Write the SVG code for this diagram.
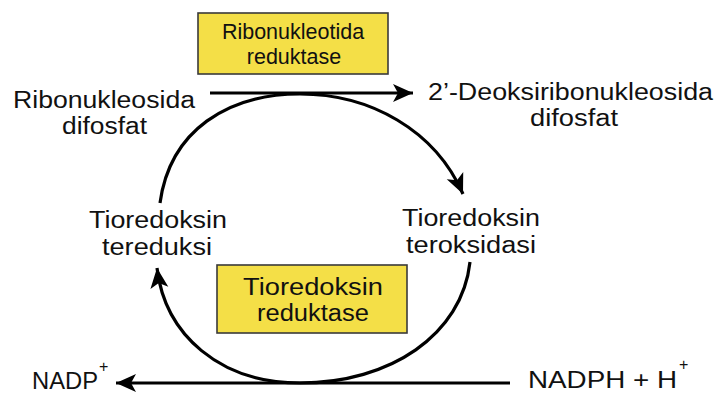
<svg xmlns="http://www.w3.org/2000/svg" width="722" height="393" viewBox="0 0 722 393">
  <style>
    text { font-family: "Liberation Sans", Arial, sans-serif; fill: #111; }
    .lbl { font-size: 23px; }
    .enz { font-size: 23px; text-anchor: middle; }
    .enz-s { font-size: 21.5px; text-anchor: middle; }
    .big { font-size: 24px; }
    .sup { font-size: 16px; }
    .box { fill: #f4df47; stroke: #3a3a3a; stroke-width: 1.6; }
    .edge { fill: none; stroke: #000; stroke-width: 3.2; }
  </style>
  <defs>
    <marker id="arrow" markerUnits="userSpaceOnUse" markerWidth="22" markerHeight="20" viewBox="0 0 22 20" refX="20" refY="10" orient="auto">
      <path d="M0,1 L20,10 L0,19 L5,10 z" fill="#000"/>
    </marker>
  </defs>

  <rect width="722" height="393" fill="#fff"/>

  <!-- connectors -->
  <g id="connectors">
    <path class="edge" d="M210,93 L413,93" marker-end="url(#arrow)"/>
    <path class="edge" d="M510,383 L116,383" marker-end="url(#arrow)"/>
    <path class="edge" d="M160,203 C170,130 228,94 300,94 C370,94 435,130 463,194" marker-end="url(#arrow)"/>
    <path class="edge" d="M470,262 C462,335 390,383 300,383 C220,383 165,335 157,268" marker-end="url(#arrow)"/>
  </g>

  <!-- enzyme boxes -->
  <g id="ribonukleotida-reduktase">
    <rect class="box" x="198" y="13" width="190" height="61"/>
    <text class="enz-s" x="293" y="39">Ribonukleotida</text>
    <text class="enz-s" x="294" y="64">reduktase</text>
  </g>
  <g id="tioredoksin-reduktase">
    <rect class="box" x="217" y="265" width="190" height="68"/>
    <text class="enz" x="313" y="295" textLength="140" lengthAdjust="spacingAndGlyphs">Tioredoksin</text>
    <text class="enz" x="313" y="321" textLength="112" lengthAdjust="spacingAndGlyphs">reduktase</text>
  </g>

  <!-- metabolites -->
  <g id="ribonukleosida-difosfat">
    <text class="lbl" x="13" y="108" textLength="182" lengthAdjust="spacingAndGlyphs">Ribonukleosida</text>
    <text class="lbl" x="62" y="134" textLength="85" lengthAdjust="spacingAndGlyphs">difosfat</text>
  </g>
  <g id="deoksiribonukleosida-difosfat">
    <text class="lbl" x="428" y="100" textLength="285" lengthAdjust="spacingAndGlyphs">2’-Deoksiribonukleosida</text>
    <text class="lbl" x="530" y="126" textLength="88" lengthAdjust="spacingAndGlyphs">difosfat</text>
  </g>
  <g id="tioredoksin-tereduksi">
    <text class="lbl" x="89" y="228" textLength="138" lengthAdjust="spacingAndGlyphs">Tioredoksin</text>
    <text class="lbl" x="102" y="255" textLength="110" lengthAdjust="spacingAndGlyphs">tereduksi</text>
  </g>
  <g id="tioredoksin-teroksidasi">
    <text class="lbl" x="402" y="226" textLength="138" lengthAdjust="spacingAndGlyphs">Tioredoksin</text>
    <text class="lbl" x="406" y="253" textLength="130" lengthAdjust="spacingAndGlyphs">teroksidasi</text>
  </g>
  <g id="nadp">
    <text class="big" x="32" y="389" textLength="66" lengthAdjust="spacingAndGlyphs">NADP</text>
    <text class="sup" x="99" y="372">+</text>
  </g>
  <g id="nadph">
    <text class="big" x="528" y="388" textLength="149" lengthAdjust="spacingAndGlyphs">NADPH + H</text>
    <text class="sup" x="679" y="370">+</text>
  </g>
</svg>
